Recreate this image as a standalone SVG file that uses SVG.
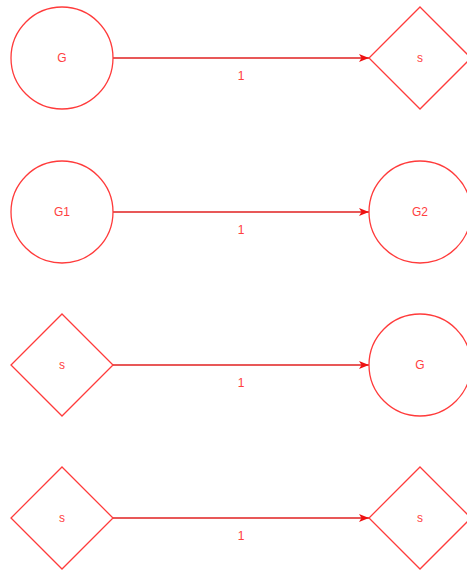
<svg xmlns="http://www.w3.org/2000/svg" width="467" height="572" viewBox="0 0 467 572">
  <style>
    .node { fill: #ffffff; stroke: #ff3b3b; stroke-width: 1.3; }
    .edge { fill: none; stroke: #e02020; stroke-width: 1.3; }
    .lbl { font-family: "Liberation Sans", Arial, sans-serif; font-size: 12px; fill: #ff4040; text-anchor: middle; dominant-baseline: central; }
  </style>
  <defs>
    <marker id="arrow" viewBox="0 0 10 8" refX="10" refY="4" markerWidth="10" markerHeight="8" markerUnits="userSpaceOnUse" orient="auto">
      <path d="M0,0 L10,4 L0,8 L2.5,4 Z" fill="#ee1111"/>
    </marker>
  </defs>

  <g id="connectors">
    <line class="edge" x1="113" y1="58" x2="369" y2="58" marker-end="url(#arrow)"/>
    <text class="lbl" x="241" y="76">1</text>
    <line class="edge" x1="113" y1="212" x2="369" y2="212" marker-end="url(#arrow)"/>
    <text class="lbl" x="241" y="230">1</text>
    <line class="edge" x1="113" y1="365" x2="369" y2="365" marker-end="url(#arrow)"/>
    <text class="lbl" x="241" y="383">1</text>
    <line class="edge" x1="113" y1="518" x2="369" y2="518" marker-end="url(#arrow)"/>
    <text class="lbl" x="241" y="536">1</text>
  </g>

  <g id="n-g-1">
    <circle class="node" cx="62" cy="58" r="51"/>
    <text class="lbl" x="62" y="58">G</text>
  </g>
  <g id="n-s-1">
    <polygon class="node" points="420,7 471,58 420,109 369,58"/>
    <text class="lbl" x="420" y="58">s</text>
  </g>

  <g id="n-g1">
    <circle class="node" cx="62" cy="212" r="51"/>
    <text class="lbl" x="62" y="212">G1</text>
  </g>
  <g id="n-g2">
    <circle class="node" cx="420" cy="212" r="51"/>
    <text class="lbl" x="420" y="212">G2</text>
  </g>

  <g id="n-s-2">
    <polygon class="node" points="62,314 113,365 62,416 11,365"/>
    <text class="lbl" x="62" y="365">s</text>
  </g>
  <g id="n-g-2">
    <circle class="node" cx="420" cy="365" r="51"/>
    <text class="lbl" x="420" y="365">G</text>
  </g>

  <g id="n-s-3">
    <polygon class="node" points="62,467 113,518 62,569 11,518"/>
    <text class="lbl" x="62" y="518">s</text>
  </g>
  <g id="n-s-4">
    <polygon class="node" points="420,467 471,518 420,569 369,518"/>
    <text class="lbl" x="420" y="518">s</text>
  </g>
</svg>
